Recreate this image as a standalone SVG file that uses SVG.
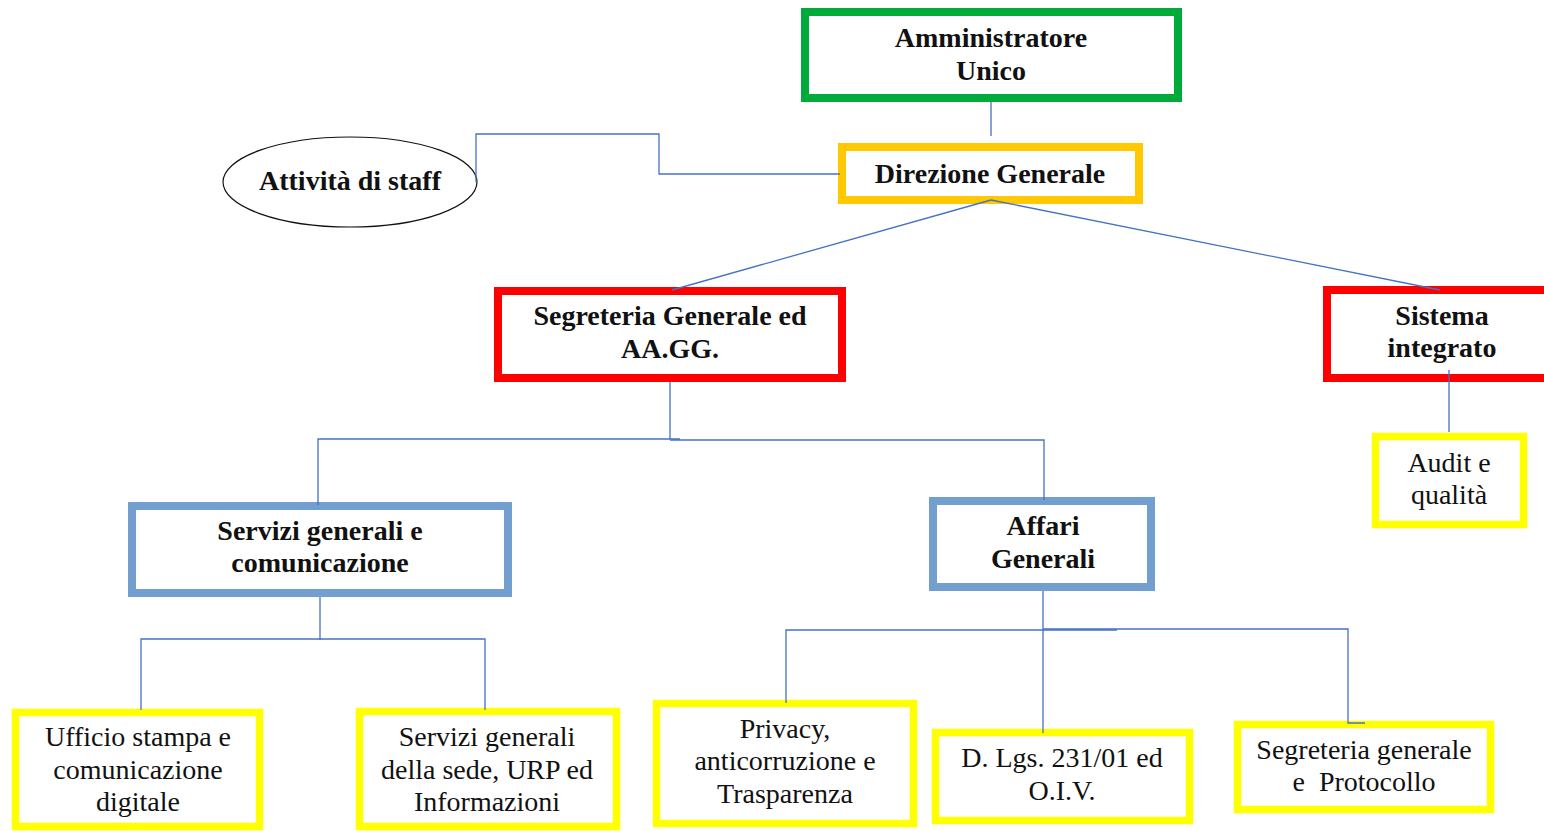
<svg xmlns="http://www.w3.org/2000/svg" width="1544" height="831" viewBox="0 0 1544 831">
<style>
.b{fill:#fff;stroke-width:8}
.g{stroke:#00AA3B}
.o{stroke:#FFC800}
.r{stroke:#FF0000}
.bl{stroke:#729FCF}
.y{stroke:#FFFF00;stroke-width:7.5}
text{font-family:"Liberation Serif","Times New Roman",serif;fill:#111;text-anchor:middle}
.t{font-size:28px;font-weight:bold}
.n{font-size:28px}
#connectors path{fill:none;stroke:#4472C4;stroke-width:1.3}
</style>
<rect width="1544" height="831" fill="#fff"/>
<g id="amministratore"><rect class="b g" x="805" y="12" width="373" height="86"/><text class="t" x="991" y="47">Amministratore</text><text class="t" x="991" y="80">Unico</text></g>
<g id="direzione"><rect class="b o" x="842" y="147" width="297" height="53"/><text class="t" x="990" y="183">Direzione Generale</text></g>
<g id="staff"><ellipse cx="350" cy="182" rx="127" ry="45" fill="#fff" stroke="#111" stroke-width="1.2"/><text class="t" x="350" y="190">Attività di staff</text></g>
<g id="segreteria"><rect class="b r" x="498" y="291" width="344" height="87"/><text class="t" x="670" y="325">Segreteria Generale ed</text><text class="t" x="670" y="358">AA.GG.</text></g>
<g id="sistema"><rect class="b r" x="1327" y="290" width="240" height="88"/><text class="t" x="1442" y="325">Sistema</text><text class="t" x="1442" y="357">integrato</text></g>
<g id="audit"><rect class="b y" x="1375.5" y="436.5" width="148" height="88"/><text class="n" x="1449" y="472">Audit e</text><text class="n" x="1449" y="504">qualità</text></g>
<g id="servizi"><rect class="b bl" x="132" y="506" width="376" height="87"/><text class="t" x="320" y="540">Servizi generali e</text><text class="t" x="320" y="572">comunicazione</text></g>
<g id="affari"><rect class="b bl" x="933" y="501" width="218" height="86"/><text class="t" x="1043" y="535">Affari</text><text class="t" x="1043" y="568">Generali</text></g>
<g id="ufficio"><rect class="b y" x="15.5" y="712.5" width="244" height="114"/><text class="n" x="138" y="746">Ufficio stampa e</text><text class="n" x="138" y="779">comunicazione</text><text class="n" x="138" y="811">digitale</text></g>
<g id="sede"><rect class="b y" x="359.5" y="711.5" width="257" height="115"/><text class="n" x="487" y="746">Servizi generali</text><text class="n" x="487" y="779">della sede, URP ed</text><text class="n" x="487" y="811">Informazioni</text></g>
<g id="privacy"><rect class="b y" x="656.5" y="703.5" width="257" height="120"/><text class="n" x="785" y="738">Privacy,</text><text class="n" x="785" y="770">anticorruzione e</text><text class="n" x="785" y="803">Trasparenza</text></g>
<g id="dlgs"><rect class="b y" x="935.5" y="732.5" width="254" height="88"/><text class="n" x="1062" y="767">D. Lgs. 231/01 ed</text><text class="n" x="1062" y="800">O.I.V.</text></g>
<g id="protocollo"><rect class="b y" x="1237.5" y="724.5" width="253" height="85"/><text class="n" x="1364" y="759">Segreteria generale</text><text class="n" x="1364" y="791" xml:space="preserve">e  Protocollo</text></g>
<g id="connectors">
<path d="M991 102V136"/>
<path d="M840 174H659V134H476V182"/>
<path d="M991 200L672 290"/>
<path d="M991 200L1440 290"/>
<path d="M670 382V439"/>
<path d="M318 505V439H680"/>
<path d="M670 440H1044V500"/>
<path d="M1449 370V432"/>
<path d="M320 597V640"/>
<path d="M141 710V639H485V710"/>
<path d="M1043 591V733"/>
<path d="M786 703V630H1117"/>
<path d="M1043 629H1348V723H1365"/>
</g>
</svg>
